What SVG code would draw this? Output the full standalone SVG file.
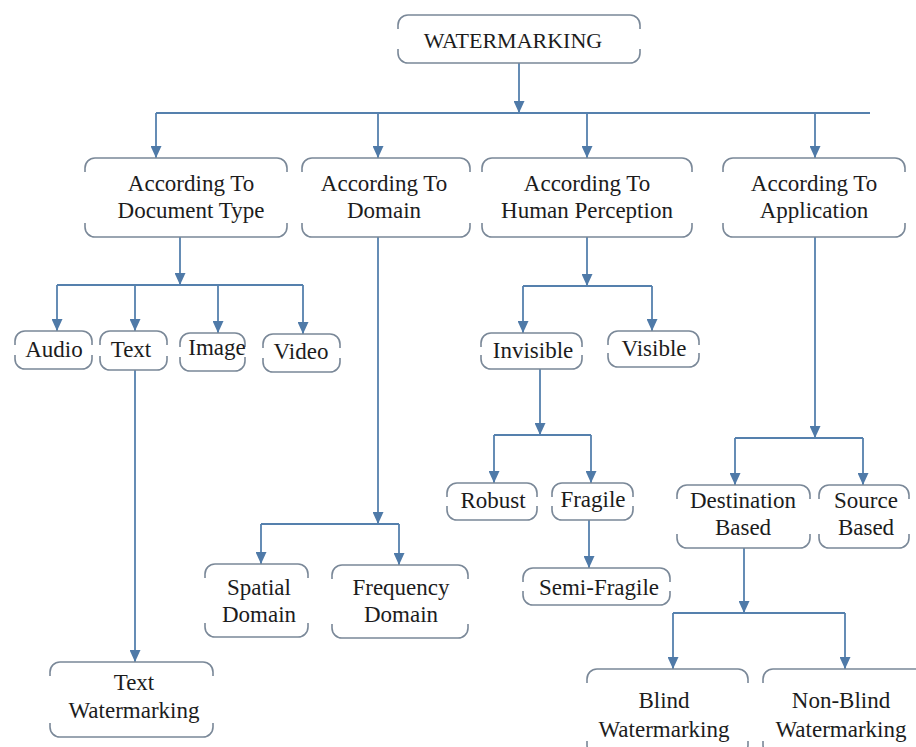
<svg xmlns="http://www.w3.org/2000/svg" width="916" height="747" viewBox="0 0 916 747">
<defs>
<marker id="ah" markerUnits="userSpaceOnUse" markerWidth="12" markerHeight="11" viewBox="0 0 12 11" refX="12" refY="5.5" orient="auto">
<path d="M0,0 L12,5.5 L0,11 z" fill="#4f7aa8"/>
</marker>
</defs>
<rect width="916" height="747" fill="#fff"/>
<g id="connectors" fill="none" stroke="#5580ad" stroke-width="1.8">
<path marker-end="url(#ah)" d="M519,63 V113"/>
<path d="M156,113 H870"/>
<path marker-end="url(#ah)" d="M156,113 V158"/>
<path marker-end="url(#ah)" d="M378,113 V158"/>
<path marker-end="url(#ah)" d="M587,113 V158"/>
<path marker-end="url(#ah)" d="M815,113 V158"/>
<path marker-end="url(#ah)" d="M180,237 V285"/>
<path d="M57,285 H303"/>
<path marker-end="url(#ah)" d="M57,285 V331"/>
<path marker-end="url(#ah)" d="M135,285 V331"/>
<path marker-end="url(#ah)" d="M218,285 V333"/>
<path marker-end="url(#ah)" d="M303,285 V334"/>
<path marker-end="url(#ah)" d="M135,370 V662"/>
<path marker-end="url(#ah)" d="M378,237 V524"/>
<path d="M261,524 H399"/>
<path marker-end="url(#ah)" d="M261,524 V564"/>
<path marker-end="url(#ah)" d="M399,524 V565"/>
<path marker-end="url(#ah)" d="M587,237 V286"/>
<path d="M523,286 H652"/>
<path marker-end="url(#ah)" d="M523,286 V333"/>
<path marker-end="url(#ah)" d="M652,286 V331"/>
<path marker-end="url(#ah)" d="M540,369 V435"/>
<path d="M494,435 H591"/>
<path marker-end="url(#ah)" d="M494,435 V483"/>
<path marker-end="url(#ah)" d="M591,435 V483"/>
<path marker-end="url(#ah)" d="M589,520 V568"/>
<path marker-end="url(#ah)" d="M815,237 V438"/>
<path d="M735,438 H863"/>
<path marker-end="url(#ah)" d="M735,438 V485"/>
<path marker-end="url(#ah)" d="M863,438 V485"/>
<path marker-end="url(#ah)" d="M744,548 V613"/>
<path d="M673,613 H845"/>
<path marker-end="url(#ah)" d="M673,613 V669"/>
<path marker-end="url(#ah)" d="M845,613 V669"/>
</g>
<g id="watermarking">
<path fill="none" stroke="#7a8898" stroke-width="1.6" d="M398,29 v-4 a10,10 0 0 1 10,-10 h222 a10,10 0 0 1 10,10 v4 M398,49 v4 a10,10 0 0 0 10,10 h222 a10,10 0 0 0 10,-10 v-4"/>
<text font-family="Liberation Serif" font-size="22" fill="#1c1c1c" text-anchor="middle" x="513" y="48">WATERMARKING</text>
</g>
<g id="doc-type">
<path fill="none" stroke="#7a8898" stroke-width="1.6" d="M85,172 v-4 a10,10 0 0 1 10,-10 h182 a10,10 0 0 1 10,10 v4 M85,223 v4 a10,10 0 0 0 10,10 h182 a10,10 0 0 0 10,-10 v-4"/>
<text font-family="Liberation Serif" font-size="23" fill="#1c1c1c" text-anchor="middle" x="191" y="191">According To</text>
<text font-family="Liberation Serif" font-size="23" fill="#1c1c1c" text-anchor="middle" x="191" y="218">Document Type</text>
</g>
<g id="domain">
<path fill="none" stroke="#7a8898" stroke-width="1.6" d="M302,172 v-4 a10,10 0 0 1 10,-10 h148 a10,10 0 0 1 10,10 v4 M302,223 v4 a10,10 0 0 0 10,10 h148 a10,10 0 0 0 10,-10 v-4"/>
<text font-family="Liberation Serif" font-size="23" fill="#1c1c1c" text-anchor="middle" x="384" y="191">According To</text>
<text font-family="Liberation Serif" font-size="23" fill="#1c1c1c" text-anchor="middle" x="384" y="218">Domain</text>
</g>
<g id="human">
<path fill="none" stroke="#7a8898" stroke-width="1.6" d="M482,172 v-4 a10,10 0 0 1 10,-10 h190 a10,10 0 0 1 10,10 v4 M482,223 v4 a10,10 0 0 0 10,10 h190 a10,10 0 0 0 10,-10 v-4"/>
<text font-family="Liberation Serif" font-size="23" fill="#1c1c1c" text-anchor="middle" x="587" y="191">According To</text>
<text font-family="Liberation Serif" font-size="23" fill="#1c1c1c" text-anchor="middle" x="587" y="218">Human Perception</text>
</g>
<g id="application">
<path fill="none" stroke="#7a8898" stroke-width="1.6" d="M723,172 v-4 a10,10 0 0 1 10,-10 h162 a10,10 0 0 1 10,10 v4 M723,223 v4 a10,10 0 0 0 10,10 h162 a10,10 0 0 0 10,-10 v-4"/>
<text font-family="Liberation Serif" font-size="23" fill="#1c1c1c" text-anchor="middle" x="814" y="191">According To</text>
<text font-family="Liberation Serif" font-size="23" fill="#1c1c1c" text-anchor="middle" x="814" y="218">Application</text>
</g>
<g id="audio">
<path fill="none" stroke="#7a8898" stroke-width="1.6" d="M15,345 v-4 a10,10 0 0 1 10,-10 h57 a10,10 0 0 1 10,10 v4 M15,355 v4 a10,10 0 0 0 10,10 h57 a10,10 0 0 0 10,-10 v-4"/>
<text font-family="Liberation Serif" font-size="23" fill="#1c1c1c" text-anchor="middle" x="54" y="357">Audio</text>
</g>
<g id="text-node">
<path fill="none" stroke="#7a8898" stroke-width="1.6" d="M100,345 v-4 a10,10 0 0 1 10,-10 h47 a10,10 0 0 1 10,10 v4 M100,356 v4 a10,10 0 0 0 10,10 h47 a10,10 0 0 0 10,-10 v-4"/>
<text font-family="Liberation Serif" font-size="23" fill="#1c1c1c" text-anchor="middle" x="131" y="357">Text</text>
</g>
<g id="image">
<path fill="none" stroke="#7a8898" stroke-width="1.6" d="M180,347 v-4 a10,10 0 0 1 10,-10 h45 a10,10 0 0 1 10,10 v4 M180,357 v4 a10,10 0 0 0 10,10 h45 a10,10 0 0 0 10,-10 v-4"/>
<text font-family="Liberation Serif" font-size="23" fill="#1c1c1c" text-anchor="middle" x="217" y="355">Image</text>
</g>
<g id="video">
<path fill="none" stroke="#7a8898" stroke-width="1.6" d="M263,348 v-4 a10,10 0 0 1 10,-10 h57 a10,10 0 0 1 10,10 v4 M263,358 v4 a10,10 0 0 0 10,10 h57 a10,10 0 0 0 10,-10 v-4"/>
<text font-family="Liberation Serif" font-size="23" fill="#1c1c1c" text-anchor="middle" x="301" y="359">Video</text>
</g>
<g id="text-watermarking">
<path fill="none" stroke="#7a8898" stroke-width="1.6" d="M50,676 v-4 a10,10 0 0 1 10,-10 h143 a10,10 0 0 1 10,10 v4 M50,723 v4 a10,10 0 0 0 10,10 h143 a10,10 0 0 0 10,-10 v-4"/>
<text font-family="Liberation Serif" font-size="23" fill="#1c1c1c" text-anchor="middle" x="134" y="690">Text</text>
<text font-family="Liberation Serif" font-size="23" fill="#1c1c1c" text-anchor="middle" x="134" y="718">Watermarking</text>
</g>
<g id="spatial">
<path fill="none" stroke="#7a8898" stroke-width="1.6" d="M205,578 v-4 a10,10 0 0 1 10,-10 h83 a10,10 0 0 1 10,10 v4 M205,623 v4 a10,10 0 0 0 10,10 h83 a10,10 0 0 0 10,-10 v-4"/>
<text font-family="Liberation Serif" font-size="23" fill="#1c1c1c" text-anchor="middle" x="259" y="595">Spatial</text>
<text font-family="Liberation Serif" font-size="23" fill="#1c1c1c" text-anchor="middle" x="259" y="622">Domain</text>
</g>
<g id="frequency">
<path fill="none" stroke="#7a8898" stroke-width="1.6" d="M332,579 v-4 a10,10 0 0 1 10,-10 h116 a10,10 0 0 1 10,10 v4 M332,624 v4 a10,10 0 0 0 10,10 h116 a10,10 0 0 0 10,-10 v-4"/>
<text font-family="Liberation Serif" font-size="23" fill="#1c1c1c" text-anchor="middle" x="401" y="595">Frequency</text>
<text font-family="Liberation Serif" font-size="23" fill="#1c1c1c" text-anchor="middle" x="401" y="622">Domain</text>
</g>
<g id="invisible">
<path fill="none" stroke="#7a8898" stroke-width="1.6" d="M481,347 v-4 a10,10 0 0 1 10,-10 h81 a10,10 0 0 1 10,10 v4 M481,355 v4 a10,10 0 0 0 10,10 h81 a10,10 0 0 0 10,-10 v-4"/>
<text font-family="Liberation Serif" font-size="23" fill="#1c1c1c" text-anchor="middle" x="533" y="358">Invisible</text>
</g>
<g id="visible">
<path fill="none" stroke="#7a8898" stroke-width="1.6" d="M608,345 v-4 a10,10 0 0 1 10,-10 h71 a10,10 0 0 1 10,10 v4 M608,353 v4 a10,10 0 0 0 10,10 h71 a10,10 0 0 0 10,-10 v-4"/>
<text font-family="Liberation Serif" font-size="23" fill="#1c1c1c" text-anchor="middle" x="654" y="356">Visible</text>
</g>
<g id="robust">
<path fill="none" stroke="#7a8898" stroke-width="1.6" d="M447,497 v-4 a10,10 0 0 1 10,-10 h70 a10,10 0 0 1 10,10 v4 M447,506 v4 a10,10 0 0 0 10,10 h70 a10,10 0 0 0 10,-10 v-4"/>
<text font-family="Liberation Serif" font-size="23" fill="#1c1c1c" text-anchor="middle" x="493" y="508">Robust</text>
</g>
<g id="fragile">
<path fill="none" stroke="#7a8898" stroke-width="1.6" d="M552,497 v-4 a10,10 0 0 1 10,-10 h61 a10,10 0 0 1 10,10 v4 M552,506 v4 a10,10 0 0 0 10,10 h61 a10,10 0 0 0 10,-10 v-4"/>
<text font-family="Liberation Serif" font-size="23" fill="#1c1c1c" text-anchor="middle" x="593" y="507">Fragile</text>
</g>
<g id="semi-fragile">
<path fill="none" stroke="#7a8898" stroke-width="1.6" d="M523,582 v-4 a10,10 0 0 1 10,-10 h127 a10,10 0 0 1 10,10 v4 M523,591 v4 a10,10 0 0 0 10,10 h127 a10,10 0 0 0 10,-10 v-4"/>
<text font-family="Liberation Serif" font-size="23" fill="#1c1c1c" text-anchor="middle" x="599" y="595">Semi-Fragile</text>
</g>
<g id="destination">
<path fill="none" stroke="#7a8898" stroke-width="1.6" d="M677,499 v-4 a10,10 0 0 1 10,-10 h113 a10,10 0 0 1 10,10 v4 M677,534 v4 a10,10 0 0 0 10,10 h113 a10,10 0 0 0 10,-10 v-4"/>
<text font-family="Liberation Serif" font-size="23" fill="#1c1c1c" text-anchor="middle" x="743" y="508">Destination</text>
<text font-family="Liberation Serif" font-size="23" fill="#1c1c1c" text-anchor="middle" x="743" y="535">Based</text>
</g>
<g id="source">
<path fill="none" stroke="#7a8898" stroke-width="1.6" d="M819,499 v-4 a10,10 0 0 1 10,-10 h70 a10,10 0 0 1 10,10 v4 M819,534 v4 a10,10 0 0 0 10,10 h70 a10,10 0 0 0 10,-10 v-4"/>
<text font-family="Liberation Serif" font-size="23" fill="#1c1c1c" text-anchor="middle" x="866" y="508">Source</text>
<text font-family="Liberation Serif" font-size="23" fill="#1c1c1c" text-anchor="middle" x="866" y="535">Based</text>
</g>
<g id="blind">
<path fill="none" stroke="#7a8898" stroke-width="1.6" d="M587,683 v-4 a10,10 0 0 1 10,-10 h141 a10,10 0 0 1 10,10 v4 M587,741 v4 a10,10 0 0 0 10,10 h141 a10,10 0 0 0 10,-10 v-4"/>
<text font-family="Liberation Serif" font-size="23" fill="#1c1c1c" text-anchor="middle" x="664" y="708">Blind</text>
<text font-family="Liberation Serif" font-size="23" fill="#1c1c1c" text-anchor="middle" x="664" y="737">Watermarking</text>
</g>
<g id="non-blind">
<path fill="none" stroke="#7a8898" stroke-width="1.6" d="M763,683 v-4 a10,10 0 0 1 10,-10 H930 M763,741 v4 a10,10 0 0 0 10,10 H930"/>
<text font-family="Liberation Serif" font-size="23" fill="#1c1c1c" text-anchor="middle" x="841" y="708">Non-Blind</text>
<text font-family="Liberation Serif" font-size="23" fill="#1c1c1c" text-anchor="middle" x="841" y="737">Watermarking</text>
</g>
</svg>
